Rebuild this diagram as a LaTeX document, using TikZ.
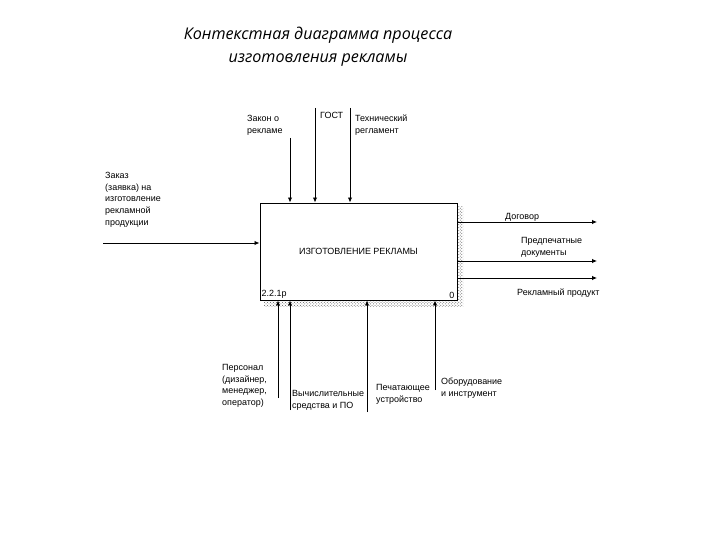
\documentclass[tikz,border=0pt]{standalone}
\usepackage{fontspec}
\setmainfont{Liberation Sans}
\newfontfamily\titlefont{Open Sans}
\usetikzlibrary{arrows.meta,patterns}
\tikzset{
  lbl/.style={font=\fontsize{9}{11.8}\selectfont, align=left, inner sep=0pt, anchor=north west},
  flow/.style={-{Latex[length=5pt,width=4.5pt]}, line width=0.9pt},
}
\begin{document}
\begin{tikzpicture}[x=1bp,y=-1bp]
\useasboundingbox (0,0) rectangle (720,540);
% title
\node[font=\titlefont\itshape\fontsize{16.2}{23}\selectfont, align=center] (title) at (318,47)
  {Контекстная диаграмма процесса\\изготовления рекламы};
% activity box with shadow
\fill[pattern=crosshatch dots, pattern color=black!65] (264,207) rectangle (463,306);
\node[draw, fill=white, line width=1pt, minimum width=197bp, minimum height=97bp, inner sep=0pt] (proc) at (358.5,251.5) {};
\node[font=\fontsize{9}{11}\selectfont] (name) at (proc.center) {ИЗГОТОВЛЕНИЕ РЕКЛАМЫ};
\node[lbl, anchor=south west] (cost) at ([shift={(2,-2)}]proc.south west) {2.2.1р};
\node[lbl, anchor=south east] (num) at ([shift={(-3,-2)}]proc.south east) {0};
% controls
\node[lbl] (law) at (247,115) {Закон о\\рекламе};
\node[lbl] (gost) at (320,112) {ГОСТ};
\node[lbl] (reg) at (355,115) {Технический\\регламент};
\coordinate (c1) at (290,138);
\coordinate (c2) at (315,108);
\coordinate (c3) at (350,108);
\foreach \c in {c1,c2,c3}
  \draw[flow] (\c) -- (\c |- proc.north);
% input
\node[lbl] (order) at (105,172) {Заказ\\(заявка) на\\изготовление\\рекламной\\продукции};
\coordinate (i1) at (103,243);
\draw[flow] (i1) -- (i1 -| proc.west);
% outputs
\node[lbl] (deal) at (505,213) {Договор};
\node[lbl] (docs) at (521,237) {Предпечатные\\документы};
\node[lbl] (prod) at (517,289) {Рекламный продукт};
\foreach \y/\n in {222/1,261/2,278/3}
{
  \coordinate (o\n) at (597,\y);
  \draw[flow] (o\n -| proc.east) -- (o\n);
}
% mechanisms
\node[lbl] (staff) at (222,364) {Персонал\\(дизайнер,\\менеджер,\\оператор)};
\node[lbl] (comp) at (292,390) {Вычислительные\\средства и ПО};
\node[lbl] (print) at (376,384) {Печатающее\\устройство};
\node[lbl] (tools) at (441,378) {Оборудование\\и инструмент};
\foreach \x/\y/\n in {278/398/1,290/410/2,367/412/3,435/390/4}
{
  \coordinate (m\n) at (\x,\y);
  \draw[flow] (m\n) -- (m\n |- proc.south);
}
\end{tikzpicture}
\end{document}
